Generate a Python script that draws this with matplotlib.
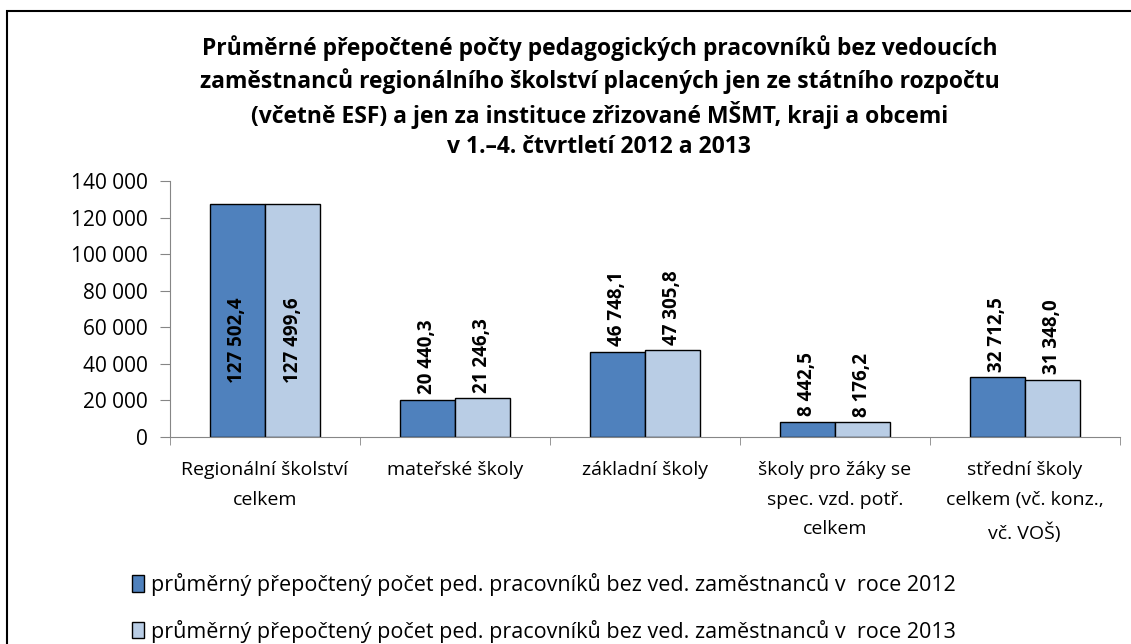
import matplotlib.pyplot as plt
import matplotlib.ticker as mticker
import numpy as np
from matplotlib.patches import Rectangle

# Data
categories = ["Regionální školství\ncelkem", "mateřské školy", "základní školy",
              "školy pro žáky se\nspec. vzd. potř.\ncelkem", "střední školy\ncelkem (vč. konz.,\nvč. VOŠ)"]
values_2012 = [127502.4, 20440.3, 46748.1, 8442.5, 32712.5]
values_2013 = [127499.6, 21246.3, 47305.8, 8176.2, 31348.0]
series_names = ["průměrný přepočtený počet ped. pracovníků bez ved. zaměstnanců v  roce 2012",
                "průměrný přepočtený počet ped. pracovníků bez ved. zaměstnanců v  roce 2013"]
title = ("Průměrné přepočtené počty pedagogických pracovníků bez vedoucích\n"
         "zaměstnanců regionálního školství placených jen ze státního rozpočtu\n"
         "(včetně ESF) a jen za instituce zřizované MŠMT, kraji a obcemi\n"
         "v 1.–4. čtvrtletí 2012 a 2013")

plt.rcParams['font.family'] = ['Open Sans', 'DejaVu Sans']

def fmt_num(v, dec=True):
    if dec:
        s = f"{v:,.1f}".replace(",", " ").replace(".", ",")
    else:
        s = f"{v:,.0f}".replace(",", " ")
    return s

fig = plt.figure(figsize=(11.31, 6.44), dpi=100)
ax = fig.add_axes([0.1503, 0.3214, 0.8397, 0.3976])

# Outer frame
fig.patches.append(Rectangle((0.006, -0.05), 1.1, 1.033, transform=fig.transFigure,
                             fill=False, edgecolor='black', linewidth=1.5))

x = np.arange(len(categories))
w = 0.29
c1, c2 = '#4F81BD', '#B9CDE5'
b1 = ax.bar(x - w / 2, values_2012, w, color=c1, edgecolor='black', linewidth=1, label=series_names[0])
b2 = ax.bar(x + w / 2, values_2013, w, color=c2, edgecolor='black', linewidth=1, label=series_names[1])

for bars in (b1, b2):
    for i, r in enumerate(bars):
        v = r.get_height()
        xc = r.get_x() + r.get_width() / 2
        if i == 0:
            ax.text(xc, 53000, fmt_num(v), rotation=90, ha='center', va='center',
                    fontsize=13.5, fontweight='bold')
        else:
            ax.annotate(fmt_num(v), (xc, v), xytext=(0, 4), textcoords='offset points',
                        rotation=90, ha='center', va='bottom', fontsize=13.5, fontweight='bold')

ax.set_xlim(-0.5, len(categories) - 0.5)
ax.set_ylim(0, 140000)
ax.yaxis.set_major_locator(mticker.MultipleLocator(20000))
ax.yaxis.set_major_formatter(mticker.FuncFormatter(lambda v, p: fmt_num(v, False)))
ax.tick_params(axis='y', labelsize=15, length=7, color='#868686', pad=9)

ax.set_xticks(x)
ax.set_xticklabels(categories, fontsize=14, linespacing=1.85)
ax.tick_params(axis='x', length=0, pad=17)
ax.set_xticks(np.arange(len(categories) + 1) - 0.5, minor=True)
ax.tick_params(axis='x', which='minor', length=6, color='#868686')

for s in ('top', 'right'):
    ax.spines[s].set_visible(False)
ax.spines['left'].set_color('#868686')
ax.spines['bottom'].set_color('#868686')

fig.text(0.53, 0.945, title, ha='center', va='top', fontsize=16.5, fontweight='bold', linespacing=1.33)

fig.legend(handles=[b1, b2], loc='lower left', bbox_to_anchor=(0.1, -0.028), frameon=False,
           fontsize=15.5, handlelength=0.55, handleheight=0.8, handletextpad=0.3, labelspacing=1.1)

fig.savefig("out.png", dpi=100)
